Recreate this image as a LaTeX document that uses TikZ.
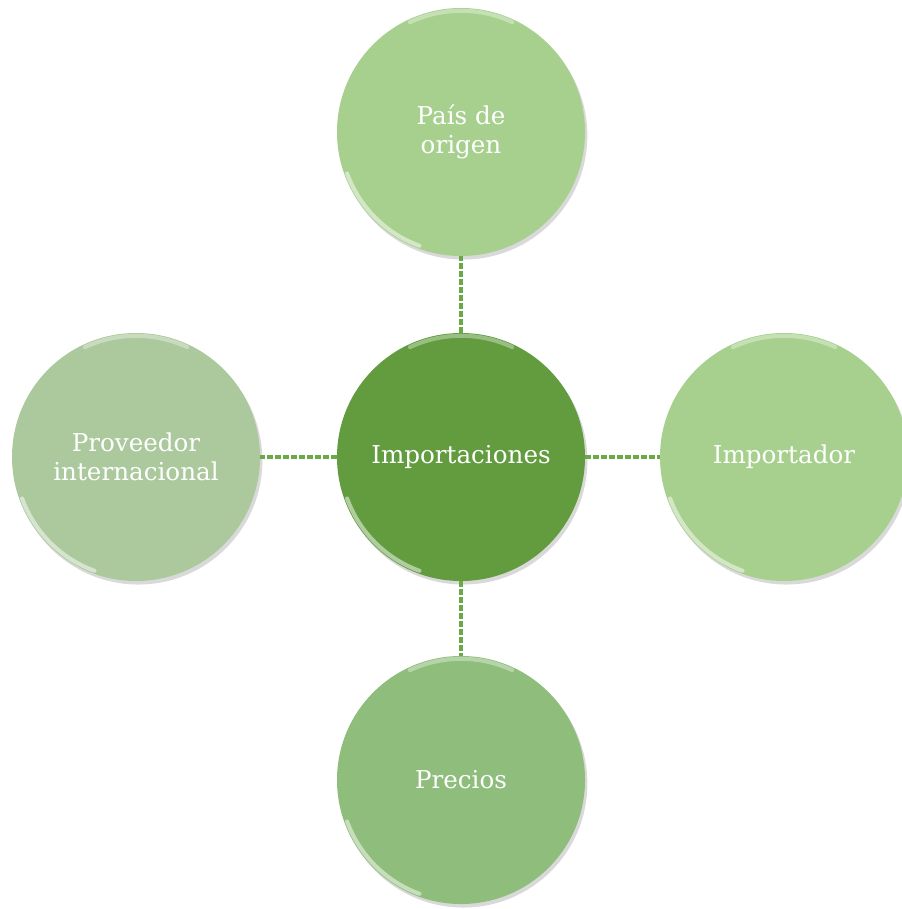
\documentclass[tikz,border=0pt]{standalone}
\usepackage{fontspec}
\setmainfont{DejaVu Serif}
\usepackage{tikz}
\usetikzlibrary{shadows}

\definecolor{hubgreen}{RGB}{98,156,63}
\definecolor{lightgreen}{RGB}{167,208,142}
\definecolor{greygreen}{RGB}{171,201,157}
\definecolor{midgreen}{RGB}{143,189,123}
\definecolor{linkgreen}{RGB}{106,170,70}

\begin{document}
\begin{tikzpicture}[x=0.03cm,y=-0.03cm,
    bubble/.style={circle, minimum size=7.44cm, inner sep=0pt,
        text=white, align=center, font=\fontsize{21}{24.5}\selectfont,
        drop shadow={shadow xshift=2pt, shadow yshift=-3pt, opacity=0.25, fill=black!60}},
    shine/.style={white, line width=3.5pt, opacity=0.5, line cap=round},
    link/.style={linkgreen, line width=3pt, dash pattern=on 5pt off 1.8pt}]
        \useasboundingbox (0,0) rectangle (901,909);

        % Importaciones
        \node [bubble, fill=hubgreen] (hub) at (461,457) {Importaciones};

        % Pais de origen
        \node [bubble, fill=lightgreen] (origin) at (461,132) {País de\\origen};

        % Importador
        \node [bubble, fill=lightgreen] (importer) at (784,457) {Importador};

        % Precios
        \node [bubble, fill=midgreen] (prices) at (461,780) {Precios};

        % Proveedor internacional
        \node [bubble, fill=greygreen] (supplier) at (136,457) {Proveedor\\internacional};

        \foreach \n in {hub,origin,importer,prices,supplier}{
            \draw[shine] ([shift={(200:-0.09cm)}]\n.200) arc[start angle=200, end angle=250, radius=3.63cm];
            \draw[shine, opacity=0.35] ([shift={(65:-0.09cm)}]\n.65) arc[start angle=65, end angle=115, radius=3.63cm];
        }

        \draw[link] (hub.north)--(origin.south);
        \draw[link] (hub.east)--(importer.west);
        \draw[link] (hub.south)--(prices.north);
        \draw[link] (hub.west)--(supplier.east);
\end{tikzpicture}
\end{document}
